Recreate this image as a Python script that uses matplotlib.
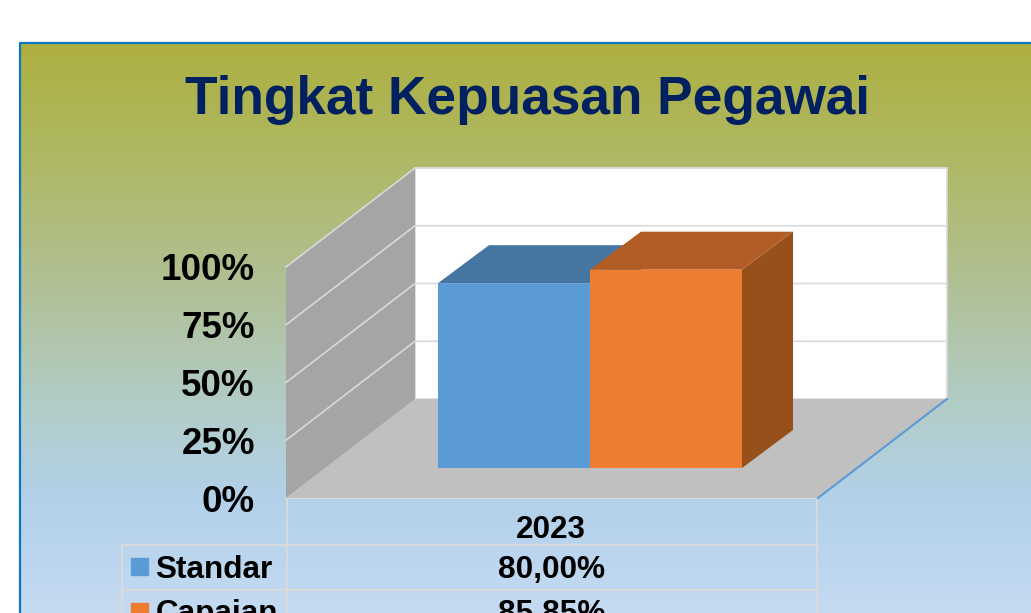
import numpy as np
import matplotlib
matplotlib.use('Agg')
import matplotlib.pyplot as plt
from matplotlib.colors import LinearSegmentedColormap

plt.rcParams['font.family'] = ['Liberation Sans', 'DejaVu Sans']
plt.rcParams['font.weight'] = 'bold'

# data
title = 'Tingkat Kepuasan Pegawai'
category = '2023'
series = ['Standar', 'Capaian']
values = [80.00, 85.85]
y_ticks = [0, 25, 50, 75, 100]

# colours: front, top, side
bar_colors = [('#5B9BD5', '#4575A1', '#3A6690'), ('#ED7D31', '#B25D25', '#98501B')]
GRID = '#D9D9D9'
W, H = 1031, 613

fig = plt.figure(figsize=(W / 100, H / 100), dpi=100, facecolor='white')

# pixel axes for the panel background and the data table
bg = fig.add_axes([0, 0, 1, 1], zorder=0)
bg.set_xlim(0, W)
bg.set_ylim(H, 0)
bg.axis('off')

stops = [(0.0, '#ADAF40'), (0.19, '#AFB862'), (0.40, '#B0BF8F'),
         (0.63, '#B2CCC6'), (0.81, '#B3D1EB'), (1.0, '#C4DAF1')]
cmap = LinearSegmentedColormap.from_list('panel', stops)
grad = np.linspace(0, 1, 256).reshape(-1, 1)
bg.imshow(grad, cmap=cmap, extent=(20, W, H, 43), aspect='auto', zorder=0)
bg.set_xlim(0, W)
bg.set_ylim(H, 0)
bg.plot([20, 20, W], [H, 43, 43], color='#0F75BC', lw=1.6, zorder=1)

# table grid
for yy, x0 in [(498, 286), (545, 122), (590, 122)]:
    bg.plot([x0, 818], [yy, yy], color=GRID, lw=1.5, zorder=1)
for xx, y0 in [(287, 498), (817, 498), (122, 545)]:
    bg.plot([xx, xx], [y0, H], color=GRID, lw=1.5, zorder=1)

bg.text(527.5, 114, title, color='#002060', fontsize=38.3, ha='center', va='baseline')
bg.text(551, 538, category, color='black', fontsize=22.6, ha='center', va='baseline')

text_y = [578, 622]
swatch_y = [558, 603]
for name, val, ty, sy, cols in zip(series, values, text_y, swatch_y, bar_colors):
    bg.fill([131, 148, 148, 131], [sy, sy, sy + 17, sy + 17], color=cols[0], zorder=2)
    bg.text(155.5, ty, name, color='black', fontsize=22.7, ha='left', va='baseline')
    bg.text(552, ty, f'{val:.2f}%'.replace('.', ','), color='black', fontsize=22.8,
            ha='center', va='baseline')

# value axes: x in pixels, y in percent, 0-100 on the front plane
ax = fig.add_axes([286 / W, (H - 498) / H, (818 - 286) / W, 231 / H], zorder=1)
ax.set_xlim(286, 818)
ax.set_ylim(0, 100)
ax.patch.set_visible(False)
for s in ax.spines.values():
    s.set_visible(False)
ax.set_xticks([])
ax.set_yticks(y_ticks)
ax.set_yticklabels([f'{t}%' for t in y_ticks])
ax.tick_params(axis='y', length=0, pad=22.4, labelsize=26.5, labelcolor='black')

px = 100 / 231  # percent per pixel
wall_dx, wall_dy = 129, 99 * px
x0, x1 = 286, 818

# back wall, side wall, floor
ax.fill([x0 + wall_dx, x1 + wall_dx, x1 + wall_dx, x0 + wall_dx],
        [wall_dy, wall_dy, 100 + wall_dy, 100 + wall_dy],
        facecolor='white', edgecolor=GRID, lw=1.2, clip_on=False, zorder=1)
ax.fill([x0, x0 + wall_dx, x0 + wall_dx, x0], [0, wall_dy, 100 + wall_dy, 100],
        facecolor='#A5A5A5', edgecolor='none', clip_on=False, zorder=1)
ax.fill([x0, x0 + wall_dx, x1 + wall_dx, x1], [0, wall_dy, wall_dy, 0],
        facecolor='#C0C0C0', edgecolor='none', clip_on=False, zorder=1)
ax.plot([x1, x1 + wall_dx], [0, wall_dy], color='#5B9BD5', lw=1.5, clip_on=False, zorder=2)

for t in y_ticks[1:]:
    ax.plot([x0, x0 + wall_dx, x1 + wall_dx], [t, t + wall_dy, t + wall_dy],
            color=GRID, lw=1.2, clip_on=False, zorder=2)

# bars
bar_w = 152
bar_left = 438
floor = 30 * px
depth_x, depth_y = 51, 38 * px
for i, (val, cols) in enumerate(zip(values, bar_colors)):
    left = bar_left + i * bar_w
    right = left + bar_w
    top = floor + val
    z = 3 + i
    ax.fill([right, right + depth_x, right + depth_x, right],
            [floor, floor + depth_y, top + depth_y, top],
            color=cols[2], lw=0, clip_on=False, zorder=z)
    ax.fill([left, left + depth_x, right + depth_x, right],
            [top, top + depth_y, top + depth_y, top],
            color=cols[1], lw=0, clip_on=False, zorder=z)
    front = ax.bar(left, val, bar_w, bottom=floor, align='edge', color=cols[0], lw=0,
                   clip_on=False, zorder=z)
    front[0].set_snap(False)

fig.savefig('out.png', dpi=100, facecolor='white')
